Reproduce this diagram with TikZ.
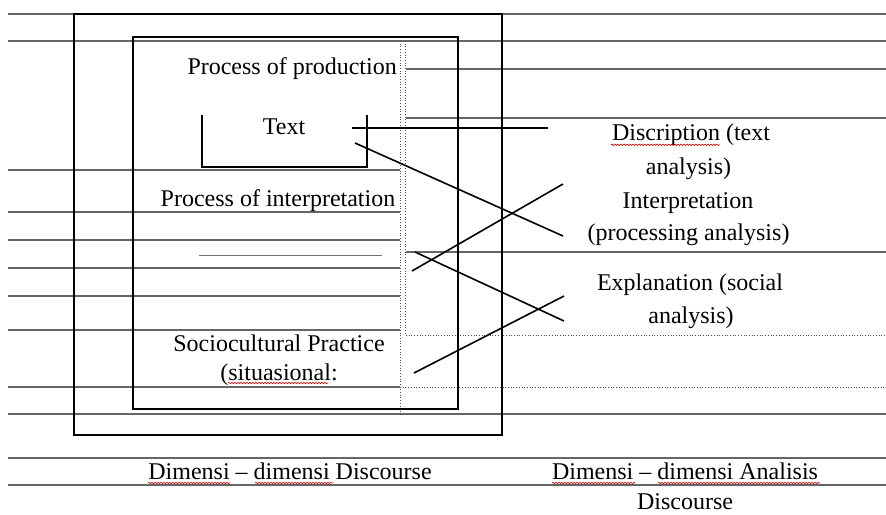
\documentclass[tikz,border=0pt]{standalone}
\usepackage{fontspec}
\setmainfont{Liberation Serif}
\usetikzlibrary{decorations.pathmorphing}
\begin{document}
\begin{tikzpicture}[x=1pt,y=-1pt,
  txt/.style={inner sep=0pt, font=\fontsize{24}{30}\selectfont},
  gridline/.style={draw=black!60, line width=1.6pt},
  thindot/.style={draw=black!70, line width=0.7pt, dotted},
  boxline/.style={draw=black, line width=1.6pt},
  link/.style={draw=black, line width=1.6pt},
  wavy/.style={draw=red!85!black, line width=0.6pt, decorate,
    decoration={snake, amplitude=0.8pt, segment length=3pt}}]
\useasboundingbox (0,0) rectangle (886,514);
\fill[white] (0,0) rectangle (886,514);

% table grid lines (gray)
\foreach \y in {14,41,414,458,485} \draw[gridline] (8,\y) -- (886,\y);
\foreach \y in {170,212,240,268,296,330,387} \draw[gridline] (8,\y) -- (400,\y);
\foreach \y in {69,118,252} \draw[gridline] (406,\y) -- (886,\y);
\draw[thindot] (406,335) -- (886,335);
\draw[thindot] (400,387) -- (886,387);
\draw[thindot] (400.7,41) -- (400.7,414);
\draw[thindot] (405.7,41) -- (405.7,335);
\draw[draw=black!55, line width=0.8pt] (199,255) -- (382,255);

% boxes
\draw[boxline] (74,14) rectangle (502,435);
\draw[boxline] (133,37) rectangle (458,409);
\draw[boxline] (202,115) -- (202,167) -- (367,167) -- (367,115);

% texts
\node[txt, anchor=base east] (prod) at (397,74.3) {Process of production};
\node[txt, anchor=base] (text) at (284,134.3) {Text};
\node[txt, anchor=base east] (interp) at (395.5,206.7) {Process of interpretation};
\node[txt, anchor=base] (socio) at (279,351.7) {Sociocultural Practice};
\node[txt, anchor=base] (situ) at (279,380) {(situasional:};
\node[txt, anchor=base] (desc) at (691,140.7) {Discription (text};
\node[txt, anchor=base] (desca) at (688.5,174) {analysis)};
\node[txt, anchor=base] (inte) at (688,208) {Interpretation};
\node[txt, anchor=base] (intea) at (688.5,240) {(processing analysis)};
\node[txt, anchor=base] (expl) at (690,290) {Explanation (social};
\node[txt, anchor=base] (expla) at (691,323.3) {analysis)};
\node[txt, anchor=base] (dimA) at (290,479) {Dimensi – dimensi Discourse};
\node[txt, anchor=base] (dimB) at (685,479) {Dimensi – dimensi Analisis};
\node[txt, anchor=base] (dimC) at (685,509.5) {Discourse};

% spelling underlines
\draw[wavy] (611,144.8) -- (720,144.8);
\draw[wavy] (228,383) -- (328,383);
\draw[wavy] (148,483) -- (230,483);
\draw[wavy] (255,483) -- (333,483);
\draw[wavy] (552,483) -- (635,483);
\draw[wavy] (658,483) -- (820,483);

% connector lines
\coordinate (a1) at (352,128); \coordinate (a2) at (548,128);
\coordinate (b1) at (355,143); \coordinate (b2) at (563,236);
\coordinate (c1) at (412,271); \coordinate (c2) at (563,184);
\coordinate (d1) at (415,252); \coordinate (d2) at (564,321);
\coordinate (e1) at (414,373); \coordinate (e2) at (564,296);
\draw[link] (a1) -- (a2);
\draw[link] (b1) -- (b2);
\draw[link] (c1) -- (c2);
\draw[link] (d1) -- (d2);
\draw[link] (e1) -- (e2);
\end{tikzpicture}
\end{document}
